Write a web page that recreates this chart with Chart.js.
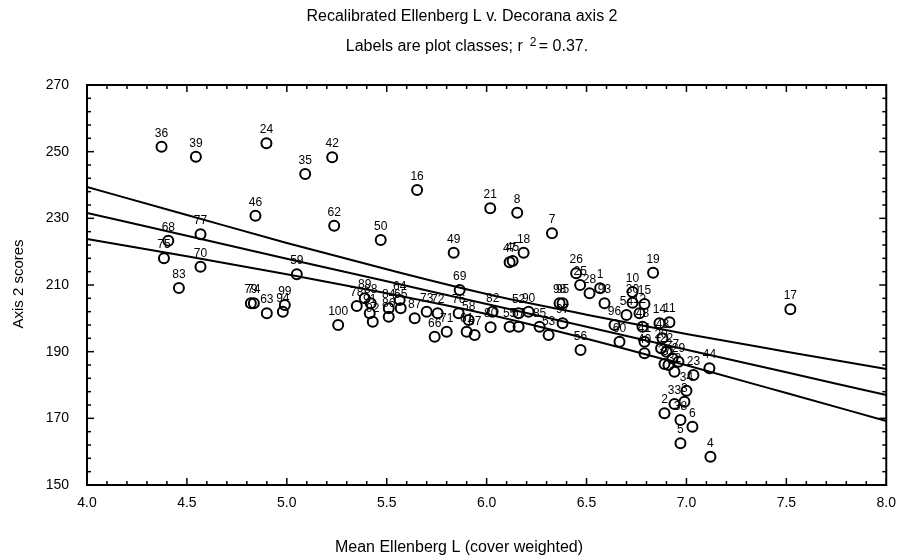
<!DOCTYPE html>
<html><head><meta charset="utf-8">
<script src="https://cdn.jsdelivr.net/npm/chart.js@4/dist/chart.umd.min.js"></script>
<style>html,body{margin:0;padding:0;background:#fff}#wrap{width:906px;height:559px}</style>
</head><body><div id="wrap"><canvas id="c" width="906" height="559"></canvas></div>
<script>
// ---- data ----
const plotClasses = ['36','39','24','42','35','46','62','68','77','75','70','83','59','50','16','21','8','7','49','18','47','45','19','26','25','1','28','93','10','30','15','54','12','14','11','96','60','40','48','41','43','20','22','27','29','31','23','44','32','37','34','3','2','33','38','6','5','4','17','56','98','95','97','53','85','90','52','57','55','82','80','61','67','58','69','76','71','66','72','73','87','64','65','84','86','89','78','88','91','92','100','79','74','63','94','99'];
const meanEllenbergL = [4.373,4.545,4.898,5.227,5.092,4.843,5.237,4.407,4.568,4.385,4.568,4.46,5.05,5.47,5.652,6.018,6.153,6.327,5.835,6.185,6.115,6.13,6.833,6.448,6.468,6.568,6.515,6.59,6.73,6.73,6.79,6.70,6.765,6.865,6.915,6.64,6.665,6.79,6.78,6.79,6.88,6.873,6.90,6.93,6.96,6.91,7.035,7.115,6.94,6.89,7.0,6.99,6.89,6.94,6.97,7.03,6.97,7.12,7.52,6.47,6.365,6.38,6.38,6.31,6.265,6.21,6.16,6.16,6.115,6.03,6.02,5.90,5.94,5.91,5.865,5.86,5.80,5.74,5.755,5.70,5.64,5.565,5.57,5.51,5.51,5.39,5.35,5.42,5.415,5.43,5.257,4.82,4.835,4.9,4.98,4.99];
const axis2Scores = [251.5,248.5,252.5,248.3,243.3,230.8,227.8,223.3,225.2,218.0,215.5,209.1,213.2,223.5,238.5,233.0,231.7,225.5,219.7,219.7,216.8,217.2,213.7,213.5,210,209,207.5,204.5,207.9,204.7,204.3,201,201.5,198.5,198.8,198,193,189.5,197.5,193,194,191,190,188,187,186,183,185,184,186.3,178.3,175,171.5,174.3,169.5,167.5,162.5,158.5,202.7,190.5,204.5,204.5,198.5,195,197.5,202,201.5,197.5,197.5,202,197.3,196,195,199.5,208.5,201.5,196,194.5,201.5,202,200,205.5,203,203,200.5,206,203.7,204.5,201.5,199,198,204.5,204.5,201.5,202,204];
// regression line and its confidence band, read at these x positions
const fitX = [4.0,4.5,5.0,5.5,6.0,6.5,7.0,7.5,8.0];
const fitMid = [231.6,224.8,217.9,211.1,204.3,197.5,190.6,183.8,177.0];
const fitUpper = [239.4,231.0,222.6,214.7,207.3,201.1,195.3,190.0,184.8];
const fitLower = [223.8,218.6,213.2,207.5,201.3,193.9,185.9,177.6,169.2];
const xTickLabels = ['4.0','4.5','5.0','5.5','6.0','6.5','7.0','7.5','8.0'];
const yTickLabels = ['150','170','190','210','230','250','270'];

const FONT = "'Liberation Sans Narrow','Arial Narrow','Liberation Sans',Arial,sans-serif";

const pts = meanEllenbergL.map((v,i)=>({x:v,y:axis2Scores[i]}));
const lineData = arr => fitX.map((v,i)=>({x:v,y:arr[i]}));
const lineDs = arr => ({type:'line',data:lineData(arr),borderColor:'#000',borderWidth:2,pointRadius:0,fill:false,tension:0.4,cubicInterpolationMode:'monotone',order:2});

const decor = {
  id:'decor',
  afterDraw(chart){
    const {ctx, chartArea:a, scales:{x,y}} = chart;
    ctx.save();
    ctx.strokeStyle='#000';
    const seg=(x1,y1,x2,y2)=>{ctx.beginPath();ctx.moveTo(x1,y1);ctx.lineTo(x2,y2);ctx.stroke();};
    ctx.lineWidth=1.5;
    for(let k=0;k<=40;k++){
      const v=4+k*0.1, px=x.getPixelForValue(v), len=(k%5===0)?7:4;
      seg(px,a.bottom,px,a.bottom-len); seg(px,a.top,px,a.top+len);
    }
    for(let k=0;k<=30;k++){
      const v=150+k*4, py=y.getPixelForValue(v), len=(k%5===0)?7:4;
      seg(a.left,py,a.left+len,py); seg(a.right,py,a.right-len,py);
    }
    ctx.lineWidth=2;
    ctx.strokeRect(a.left,a.top,a.right-a.left,a.bottom-a.top);
    // point labels
    const meta = chart.getDatasetMeta(3);
    ctx.fillStyle='#000';
    ctx.font = "12px "+FONT; ctx.textAlign='center'; ctx.textBaseline='alphabetic';
    meta.data.forEach((p,i)=>{ ctx.fillText(plotClasses[i], p.x, p.y-10); });
    // titles
    ctx.font = "16px "+FONT;
    ctx.fillText('Recalibrated Ellenberg L v. Decorana axis 2', 462, 21);
    ctx.textAlign='left';
    const s1='Labels are plot classes; r', s2='2', s3='= 0.37.';
    const w1=ctx.measureText(s1).width, w3=ctx.measureText(s3).width;
    const gap=16, total=w1+gap+w3;
    let sx=467-total/2;
    ctx.fillText(s1,sx,51);
    ctx.font="12px "+FONT;
    ctx.fillText(s2,sx+w1+gap-9,46);
    ctx.font="16px "+FONT;
    ctx.fillText(s3,sx+w1+gap,51);
    ctx.textAlign='center';
    ctx.fillText('Mean Ellenberg L (cover weighted)', 459, 552);
    ctx.save(); ctx.translate(23,284); ctx.rotate(-Math.PI/2);
    ctx.font = "15px "+FONT;
    ctx.fillText('Axis 2 scores',0,0); ctx.restore();
    ctx.restore();
  }
};

new Chart(document.getElementById('c'),{
  type:'scatter',
  data:{datasets:[
    lineDs(fitUpper), lineDs(fitMid), lineDs(fitLower),
    {type:'scatter',data:pts,pointRadius:5,pointHoverRadius:5,borderColor:'#000',backgroundColor:'rgba(255,255,255,0)',borderWidth:2,order:1}
  ]},
  plugins:[decor],
  options:{
    responsive:false, animation:false, devicePixelRatio:1,
    layout:{padding:{left:0,top:85,right:18,bottom:0}},
    plugins:{legend:{display:false},tooltip:{enabled:false}},
    scales:{
      x:{type:'linear',min:4,max:8,
        afterFit:s=>{s.height=74;},
        afterBuildTicks:s=>{s.ticks=xTickLabels.map(t=>({value:parseFloat(t)}));},
        ticks:{color:'#000',font:{family:FONT,size:14},padding:10,callback:(v)=>Number(v).toFixed(1)},
        grid:{display:false,drawTicks:false},border:{display:false}},
      y:{type:'linear',min:150,max:270,
        afterFit:s=>{s.width=87;},
        afterBuildTicks:s=>{s.ticks=yTickLabels.map(t=>({value:parseFloat(t)}));},
        ticks:{color:'#000',font:{family:FONT,size:14},padding:18},
        grid:{display:false,drawTicks:false},border:{display:false}}
    }
  }
});
</script></body></html>
